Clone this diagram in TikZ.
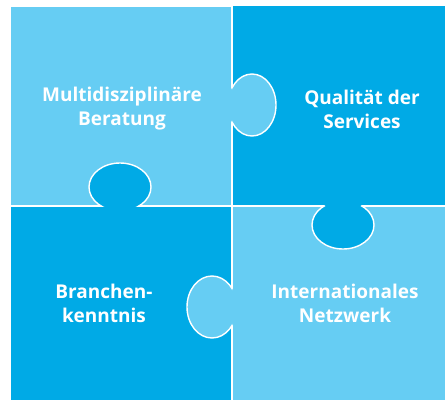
\documentclass[tikz,border=0pt]{standalone}
\usepackage{fontspec}
\setmainfont{Open Sans}
\definecolor{puzzlelight}{RGB}{102,205,243}
\definecolor{puzzledark}{RGB}{0,170,230}
\tikzset{
  piecetext/.style={text=white, font=\bfseries\fontsize{19}{24}\selectfont, align=center, inner sep=0pt},
  taboutline/.style={draw=white, line width=1.4},
  gapline/.style={white, line width=2}
}

\begin{document}
\begin{tikzpicture}[x=1pt,y=1pt,yscale=-1,xscale=1]
\useasboundingbox (0,0) rectangle (445,400);

%Shape: Pieces
\fill [puzzlelight] (11,7) rectangle (232,206);
\fill [puzzledark] (232,6) rectangle (445,206);
\fill [puzzledark] (11,206) rectangle (232,400);
\fill [puzzlelight] (232,206) rectangle (445,400);

%Straight Lines: gaps between pieces
\draw [gapline] (232,6) -- (232,400);
\draw [gapline] (11,206) -- (445,206);

%Shape: Tabs
\fill [puzzlelight] (252,105) ellipse [x radius=24, y radius=31];
\fill [puzzledark] (120,187) ellipse [x radius=31, y radius=24];
\fill [puzzledark] (343,225) ellipse [x radius=31, y radius=24];
\fill [puzzlelight] (212,307) ellipse [x radius=25, y radius=31];

%Shape: Tab outlines, clipped to the piece they reach into
\begin{scope}
  \clip (232,0) rectangle (445,206);
  \draw [taboutline] (252,105) ellipse [x radius=24, y radius=31];
\end{scope}
\begin{scope}
  \clip (0,0) rectangle (232,206);
  \draw [taboutline] (120,187) ellipse [x radius=31, y radius=24];
\end{scope}
\begin{scope}
  \clip (232,206) rectangle (445,400);
  \draw [taboutline] (343,225) ellipse [x radius=31, y radius=24];
\end{scope}
\begin{scope}
  \clip (0,206) rectangle (232,400);
  \draw [taboutline] (212,307) ellipse [x radius=25, y radius=31];
\end{scope}

%Text
\node [piecetext] (beratung) at (122,109) {Multidisziplinäre\\Beratung};
\node [piecetext] (services) at (362,109) {Qualität der\\Services};
\node [piecetext] (branche) at (104,303.5) {Branchen-\\kenntnis};
\node [piecetext] (netzwerk) at (345,303.5) {Internationales\\Netzwerk};

\end{tikzpicture}
\end{document}
